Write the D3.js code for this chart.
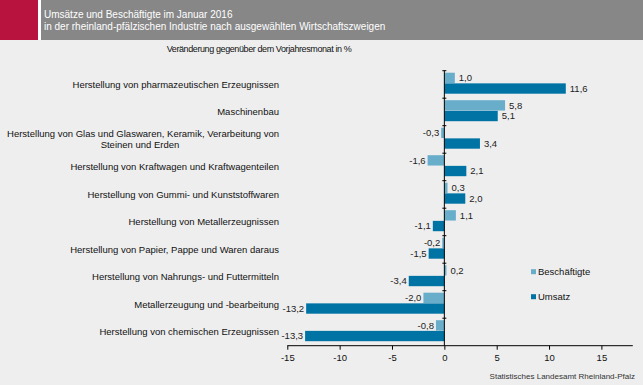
<!DOCTYPE html>
<html>
<head>
<meta charset="utf-8">
<script src="https://cdn.jsdelivr.net/npm/d3@7"></script>
<style>
body { margin: 0; background: #eeeeee; }
text { font-family: "Liberation Sans", Arial, sans-serif; }
</style>
</head>
<body>
<script>
var categories = [
    ["Herstellung von pharmazeutischen Erzeugnissen"],
    ["Maschinenbau"],
    ["Herstellung von Glas und Glaswaren, Keramik, Verarbeitung von", "Steinen und Erden"],
    ["Herstellung von Kraftwagen und Kraftwagenteilen"],
    ["Herstellung von Gummi- und Kunststoffwaren"],
    ["Herstellung von Metallerzeugnissen"],
    ["Herstellung von Papier, Pappe und Waren daraus"],
    ["Herstellung von Nahrungs- und Futtermitteln"],
    ["Metallerzeugung und -bearbeitung"],
    ["Herstellung von chemischen Erzeugnissen"]
];
var beschaeftigte = [1.0, 5.8, -0.3, -1.6, 0.3, 1.1, -0.2, 0.2, -2.0, -0.8];
var umsatz = [11.6, 5.1, 3.4, 2.1, 2.0, -1.1, -1.5, -3.4, -13.2, -13.3];
var xTicks = [-15, -10, -5, 0, 5, 10, 15];
var seriesNames = ["Beschäftigte", "Umsatz"];
var colors = ["#68adca", "#0073a5"];

var w = 643, h = 385;
var svg = d3.select("body").append("svg").attr("width", w).attr("height", h);

// background and header
svg.append("rect").attr("width", w).attr("height", h).attr("fill", "#eeeeee");
svg.append("rect").attr("x", 0).attr("y", 0).attr("width", 38).attr("height", 40).attr("fill", "#b8133f");
svg.append("rect").attr("x", 38).attr("y", 0).attr("width", 3).attr("height", 40).attr("fill", "#ffffff");
svg.append("rect").attr("x", 41).attr("y", 0).attr("width", w - 41).attr("height", 40).attr("fill", "#878787");
svg.append("text").attr("x", 44).attr("y", 18).attr("fill", "#fff").style("font-size", "10px")
    .text("Umsätze und Beschäftigte im Januar 2016");
svg.append("text").attr("x", 44).attr("y", 30).attr("fill", "#fff").style("font-size", "10px")
    .text("in der rheinland-pfälzischen Industrie nach ausgewählten Wirtschaftszweigen");

svg.append("text").attr("x", 259).attr("y", 52).attr("text-anchor", "middle")
    .style("font-size", "9px").style("letter-spacing", "-0.4px").attr("fill", "#111")
    .text("Veränderung gegenüber dem Vorjahresmonat in %");

var x = d3.scaleLinear().domain([-15, 18]).range([287.3, 632.8]);
var y = d3.scaleBand().domain(d3.range(categories.length)).range([70.7, 345.7]);
var inner = d3.scaleBand().domain([0, 1]).range([2, 23]).paddingInner(0.03);

var fmt = function(v) { return d3.format(".1f")(v).replace(".", ",").replace("\u2212", "-"); };

var data = [beschaeftigte, umsatz];

var groups = svg.selectAll("g.cat").data(categories).enter().append("g")
    .attr("class", "cat")
    .attr("transform", function(d, i) { return "translate(0," + y(i) + ")"; });

data.forEach(function(series, s) {
    groups.append("rect")
        .attr("x", function(d, i) { return x(Math.min(0, series[i])); })
        .attr("y", inner(s))
        .attr("width", function(d, i) { return Math.abs(x(series[i]) - x(0)); })
        .attr("height", inner.bandwidth())
        .attr("fill", colors[s]);
    groups.append("text")
        .attr("x", function(d, i) { return series[i] >= 0 ? x(series[i]) + 4 : x(series[i]) - 2; })
        .attr("y", inner(s) + inner.bandwidth() / 2)
        .attr("dy", "0.35em")
        .attr("text-anchor", function(d, i) { return series[i] >= 0 ? "start" : "end"; })
        .style("font-size", "9.5px").attr("fill", "#222")
        .text(function(d, i) { return fmt(series[i]); });
});

// category labels
groups.each(function(d, i) {
    var g = d3.select(this);
    var c = y.bandwidth() / 2;
    if (d.length == 1) {
        g.append("text").attr("x", 279).attr("y", c).attr("dy", "0.35em")
            .attr("text-anchor", "end").style("font-size", "9.5px").attr("fill", "#111").text(d[0]);
    } else {
        g.append("text").attr("x", 279).attr("y", c - 5.5).attr("dy", "0.35em")
            .attr("text-anchor", "end").style("font-size", "9.5px").attr("fill", "#111").text(d[0]);
        g.append("text").attr("x", 140).attr("y", c + 5.5).attr("dy", "0.35em")
            .attr("text-anchor", "middle").style("font-size", "9.5px").attr("fill", "#111").text(d[1]);
    }
});

// x axis
var xAxis = svg.append("g").attr("transform", "translate(0," + 345.7 + ")")
    .call(d3.axisBottom(x).tickValues(xTicks).tickSize(4)
        .tickFormat(function(d) { return String(d); }));
xAxis.select(".domain").attr("d", "M" + x(-15) + ",0H" + x(18)).attr("stroke", "#000");
xAxis.selectAll("text").style("font-size", "9.5px").attr("fill", "#111").attr("dy", "0.9em")
    .style("font-family", "Liberation Sans, Arial, sans-serif");

// y axis at zero
var yTickPos = d3.range(categories.length + 1).map(function(i) { return 70.7 + i * y.step(); });
svg.append("line").attr("x1", x(0)).attr("x2", x(0)).attr("y1", 70.7).attr("y2", 345.7).attr("stroke", "#000");
svg.selectAll("line.yt").data(yTickPos.slice(0, -1)).enter().append("line").attr("class", "yt")
    .attr("x1", x(0) - 2).attr("x2", x(0) + 2)
    .attr("y1", function(d) { return d; }).attr("y2", function(d) { return d; })
    .attr("stroke", "#000");

// legend
var leg = svg.selectAll("g.leg").data(seriesNames).enter().append("g").attr("class", "leg")
    .attr("transform", function(d, i) { return "translate(531," + (271.7 + i * 25) + ")"; });
leg.append("rect").attr("x", 0).attr("y", -2.5).attr("width", 5).attr("height", 5)
    .attr("fill", function(d, i) { return colors[i]; });
leg.append("text").attr("x", 7).attr("y", 0).attr("dy", "0.35em").style("font-size", "9.5px")
    .attr("fill", "#111").text(function(d) { return d; });

svg.append("text").attr("x", 635).attr("y", 379).attr("text-anchor", "end")
    .style("font-size", "8px").attr("fill", "#333").text("Statistisches Landesamt Rheinland-Pfalz");
</script>
</body>
</html>
